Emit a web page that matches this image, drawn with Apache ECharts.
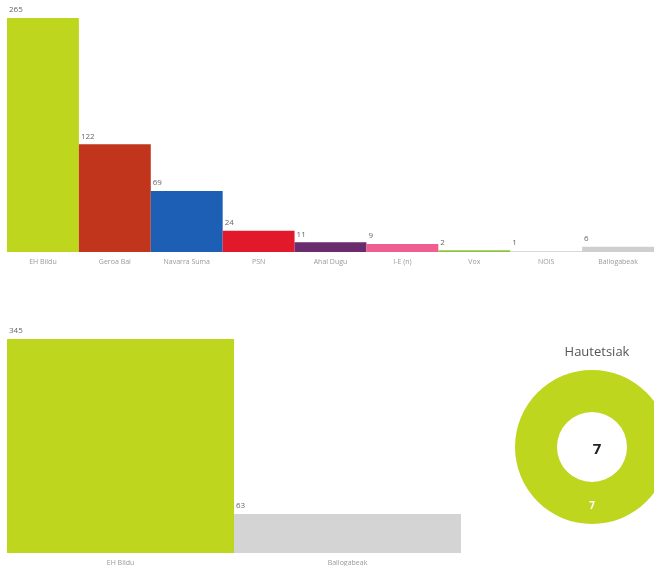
<!DOCTYPE html>
<html><head><meta charset="utf-8">
<script src="https://cdn.jsdelivr.net/npm/echarts@6/dist/echarts.min.js"></script>
<style>html,body{margin:0;padding:0;background:#fff}#c{width:654px;height:566px}</style>
</head><body><div id="c"></div>
<script>
const topCategories = ['EH Bildu','Geroa Bai','Navarra Suma','PSN','Ahal Dugu','I-E (n)','Vox','NOIS','Baliogabeak'];
const topValues = [265,122,69,24,11,9,2,1,6];
const topColors = ['#bed61e','#c0351b','#1c5fb4','#e2182b','#6a2c6c','#f05d91','#8cc641','#d8d8d8','#cfcfcf'];
const bottomCategories = ['EH Bildu','Baliogabeak'];
const bottomValues = [345,63];
const bottomColors = ['#bed61e','#d4d4d4'];
const donutTitle = 'Hautetsiak';
const donutNames = ['EH Bildu'];
const donutValues = [7];
const donutColors = ['#bed61e'];

const chart = echarts.init(document.getElementById('c'));
const font = 'Open Sans';
const labelStyle = {show:true, position:[2,-12], fontSize:8, color:'#666', fontFamily:font};
chart.setOption({
  animation:false,
  title:[{text:donutTitle, left:592, top:341, textAlign:'center', textStyle:{fontSize:13, fontWeight:'normal', color:'#555', fontFamily:font}},
         {text:String(donutValues.reduce((a,b)=>a+b,0)), left:592, top:437, textAlign:'center', textStyle:{fontSize:15, fontWeight:'bold', color:'#222', fontFamily:font}}],
  grid:[{left:7, top:18, width:655, height:234},
        {left:7, top:339, width:454, height:214}],
  xAxis:[{type:'category', gridIndex:0, data:topCategories, axisLine:{show:false}, axisTick:{show:false},
          axisLabel:{fontSize:7, color:'#999', fontFamily:font, margin:6, interval:0}},
         {type:'category', gridIndex:1, data:bottomCategories, axisLine:{show:false}, axisTick:{show:false},
          axisLabel:{fontSize:7, color:'#999', fontFamily:font, margin:6, interval:0}}],
  yAxis:[{type:'value', gridIndex:0, min:0, max:265, show:false, splitLine:{show:false}},
         {type:'value', gridIndex:1, min:0, max:345, show:false, splitLine:{show:false}}],
  series:[
    {type:'bar', xAxisIndex:0, yAxisIndex:0, barCategoryGap:'0%', barMinHeight:1,
     data:topValues.map((v,i)=>({value:v, itemStyle:{color:topColors[i]}})), label:labelStyle},
    {type:'bar', xAxisIndex:1, yAxisIndex:1, barCategoryGap:'0%',
     data:bottomValues.map((v,i)=>({value:v, itemStyle:{color:bottomColors[i]}})), label:labelStyle},
    {type:'pie', center:[592,447], radius:[35,77], startAngle:90, silent:true,
     data:donutValues.map((v,i)=>({name:donutNames[i], value:v, itemStyle:{color:donutColors[i]}})),
     label:{show:true, position:'inside', formatter:'{c}', color:'#fff', fontSize:10, fontWeight:'bold', fontFamily:font},
     labelLine:{show:false}}
  ]
});
</script></body></html>
